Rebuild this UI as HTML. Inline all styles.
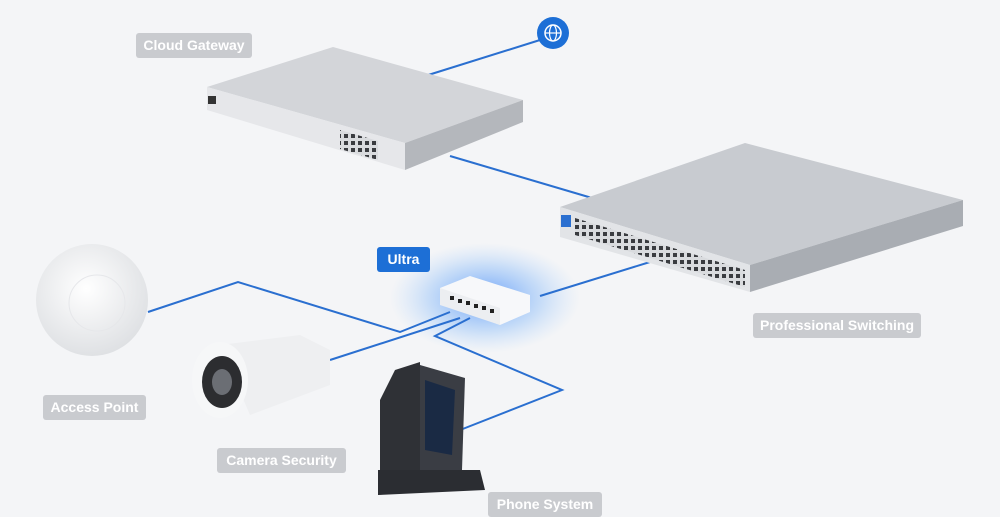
<!DOCTYPE html>
<html><head><style>
body{margin:0;width:1000px;height:503px;overflow:hidden;background:#f4f5f7;font-family:"Liberation Sans",sans-serif;position:relative}
.l{position:absolute;background:#c9cbcf;color:#fff;font-size:14px;line-height:25px;height:25px;padding:0 6px;border-radius:3px;box-sizing:border-box;text-align:center;font-weight:bold;white-space:nowrap}
</style></head><body>
<svg width="1000" height="503" style="position:absolute;left:0;top:0">
<defs>
<radialGradient id="gl" cx="50%" cy="50%" r="50%"><stop offset="0" stop-color="#3b82f6" stop-opacity=".75"/><stop offset=".6" stop-color="#60a5fa" stop-opacity=".3"/><stop offset="1" stop-color="#93c5fd" stop-opacity="0"/></radialGradient>
<radialGradient id="ap" cx="45%" cy="40%" r="60%"><stop offset="0" stop-color="#fff"/><stop offset="1" stop-color="#dfe1e4"/></radialGradient>
<pattern id="pt" width="7" height="7" patternUnits="userSpaceOnUse"><rect width="7" height="7" fill="#d9dbde"/><rect x="1" y="1" width="4" height="4" fill="#3a3c40"/></pattern>
</defs>
<ellipse cx="485" cy="298" rx="95" ry="55" fill="url(#gl)"/>
<g fill="none" stroke="#2a6fd0" stroke-width="2">
<path d="M425 76 L540 40"/>
<path d="M450 156 L592 198"/>
<path d="M540 296 L650 262"/>
<path d="M148 312 L238 282 L400 332 L450 312"/>
<path d="M330 360 L460 318"/>
<path d="M470 318 L435 336 L562 390 L455 432"/>
</g>
<circle cx="553" cy="33" r="16" fill="#1d6fd6"/>
<circle cx="553" cy="33" r="8" fill="none" stroke="#fff" stroke-width="1.5"/>
<ellipse cx="553" cy="33" rx="3.5" ry="8" fill="none" stroke="#fff" stroke-width="1.2"/>
<line x1="545" y1="33" x2="561" y2="33" stroke="#fff" stroke-width="1.2"/>
<polygon points="207,87 333,47 523,100 405,143" fill="#d3d5d9"/>
<polygon points="207,87 405,143 405,170 207,110" fill="#e6e7ea"/>
<polygon points="405,143 523,100 523,122 405,170" fill="#b4b7bc"/>
<rect x="208" y="96" width="8" height="8" fill="#333"/>
<polygon points="340,130 378,141 378,160 340,149" fill="url(#pt)"/>
<polygon points="560,207 745,143 963,200 750,265" fill="#c8cbd0"/>
<polygon points="560,207 750,265 750,292 560,237" fill="#e2e4e7"/>
<polygon points="750,265 963,200 963,226 750,292" fill="#a9adb3"/>
<polygon points="575,218 745,270 745,287 575,235" fill="url(#pt)"/>
<rect x="561" y="215" width="10" height="12" fill="#2a6fd0"/>
<polygon points="440,288 470,276 530,295 530,312 500,325 440,303" fill="#f7f8fa"/>
<polygon points="440,288 500,308 500,325 440,305" fill="#eceef1"/>
<g fill="#222"><rect x="450" y="296" width="4" height="4"/><rect x="458" y="299" width="4" height="4"/><rect x="466" y="301" width="4" height="4"/><rect x="474" y="304" width="4" height="4"/><rect x="482" y="306" width="4" height="4"/><rect x="490" y="309" width="4" height="4"/></g>
<circle cx="92" cy="300" r="56" fill="url(#ap)"/>
<circle cx="97" cy="303" r="28" fill="none" stroke="#e6e7ea"/>
<polygon points="220,345 300,335 330,350 330,385 250,415" fill="#eeeff1"/>
<ellipse cx="220" cy="380" rx="28" ry="38" fill="#f6f7f8"/>
<ellipse cx="222" cy="382" rx="20" ry="26" fill="#2c2d30"/>
<ellipse cx="222" cy="382" rx="10" ry="13" fill="#6b6e74"/>
<polygon points="380,400 395,370 420,362 420,470 380,480" fill="#2f3136"/>
<polygon points="420,365 465,378 462,470 420,470" fill="#3a3d44"/>
<polygon points="425,380 455,390 452,455 425,450" fill="#1a2a44"/>
<polygon points="378,470 480,470 485,490 378,495" fill="#2b2d32"/>
</svg>
<div class="l" style="left:136px;top:33px;width:116px">Cloud Gateway</div>
<div class="l" style="left:377px;top:247px;width:53px;background:#1d6fd6">Ultra</div>
<div class="l" style="left:753px;top:313px;width:168px">Professional Switching</div>
<div class="l" style="left:43px;top:395px;width:103px">Access Point</div>
<div class="l" style="left:217px;top:448px;width:129px">Camera Security</div>
<div class="l" style="left:488px;top:492px;width:114px">Phone System</div>
</body></html>
